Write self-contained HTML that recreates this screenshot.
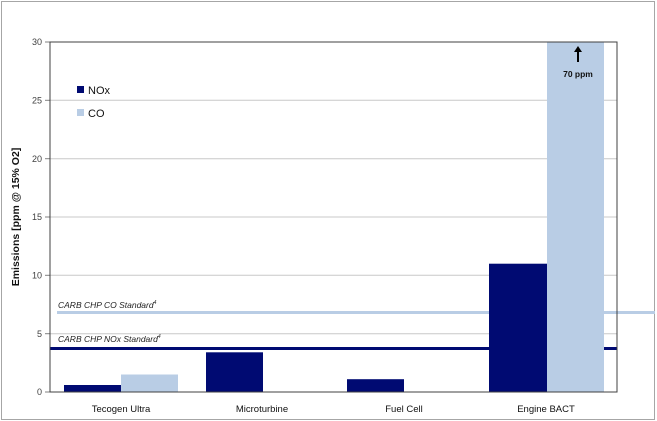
<!DOCTYPE html>
<html><head><meta charset="utf-8"><style>
html,body{margin:0;padding:0;background:#fff;}
svg{display:block;font-family:"Liberation Sans",sans-serif;}
</style></head><body>
<svg width="657" height="421" viewBox="0 0 657 421">
<rect x="1.5" y="1.5" width="653" height="418" fill="#fff" stroke="#a6a6a6" stroke-width="1"/>
<g stroke="#c8c8c8" stroke-width="1">
<line x1="50" y1="100.3" x2="617" y2="100.3"/>
<line x1="50" y1="158.7" x2="617" y2="158.7"/>
<line x1="50" y1="217" x2="617" y2="217"/>
<line x1="50" y1="275.3" x2="617" y2="275.3"/>
<line x1="50" y1="333.7" x2="617" y2="333.7"/>
</g>
<g font-size="9" fill="#404040" text-anchor="end">
<text x="42" y="45">30</text>
<text x="42" y="103.5">25</text>
<text x="42" y="162">20</text>
<text x="42" y="220">15</text>
<text x="42" y="278.5">10</text>
<text x="42" y="337">5</text>
<text x="42" y="395">0</text>
</g>
<g stroke="#808080" stroke-width="1">
<line x1="45" y1="42" x2="50" y2="42"/><line x1="45" y1="100.3" x2="50" y2="100.3"/>
<line x1="45" y1="158.7" x2="50" y2="158.7"/><line x1="45" y1="217" x2="50" y2="217"/>
<line x1="45" y1="275.3" x2="50" y2="275.3"/><line x1="45" y1="333.7" x2="50" y2="333.7"/>
<line x1="45" y1="392" x2="50" y2="392"/>
</g>
<line x1="57" y1="312.5" x2="655" y2="312.5" stroke="#b9cde5" stroke-width="3"/>
<line x1="50" y1="348.5" x2="617" y2="348.5" stroke="#000a72" stroke-width="3"/>
<g fill="#000a72">
<rect x="64" y="385" width="57" height="7"/>
<rect x="206" y="352.3" width="57" height="39.7"/>
<rect x="347" y="379.2" width="57" height="12.8"/>
<rect x="489" y="263.7" width="58" height="128.3"/>
</g>
<g fill="#b9cde5">
<rect x="121" y="374.5" width="57" height="17.5"/>
<rect x="547" y="42" width="57" height="350"/>
</g>
<rect x="50" y="42" width="567" height="350" fill="none" stroke="#404040" stroke-width="1"/>
<g font-size="8.5" font-style="italic" fill="#222">
<text x="58" y="308">CARB CHP CO Standard<tspan font-size="5" dy="-4">4</tspan></text>
<text x="58" y="342">CARB CHP NOx Standard<tspan font-size="5" dy="-4">4</tspan></text>
</g>
<line x1="578" y1="62" x2="578" y2="51" stroke="#000" stroke-width="2"/>
<polygon points="574,52 578,46 582,52" fill="#000"/>
<text x="578" y="77" font-size="8.5" font-weight="bold" text-anchor="middle" fill="#111">70 ppm</text>
<rect x="77" y="86" width="7" height="7" fill="#000a72"/>
<text x="88" y="94" font-size="11" fill="#111">NOx</text>
<rect x="77" y="109" width="7" height="7" fill="#b9cde5"/>
<text x="88" y="117" font-size="11" fill="#111">CO</text>
<g font-size="9.5" fill="#111" text-anchor="middle">
<text x="121" y="412">Tecogen Ultra</text>
<text x="262" y="412">Microturbine</text>
<text x="404" y="412">Fuel Cell</text>
<text x="546" y="412">Engine BACT</text>
</g>
<text transform="translate(19,217) rotate(-90)" font-size="10.5" font-weight="bold" text-anchor="middle" fill="#111">Emissions [ppm @ 15% O2]</text>
</svg>
</body></html>
